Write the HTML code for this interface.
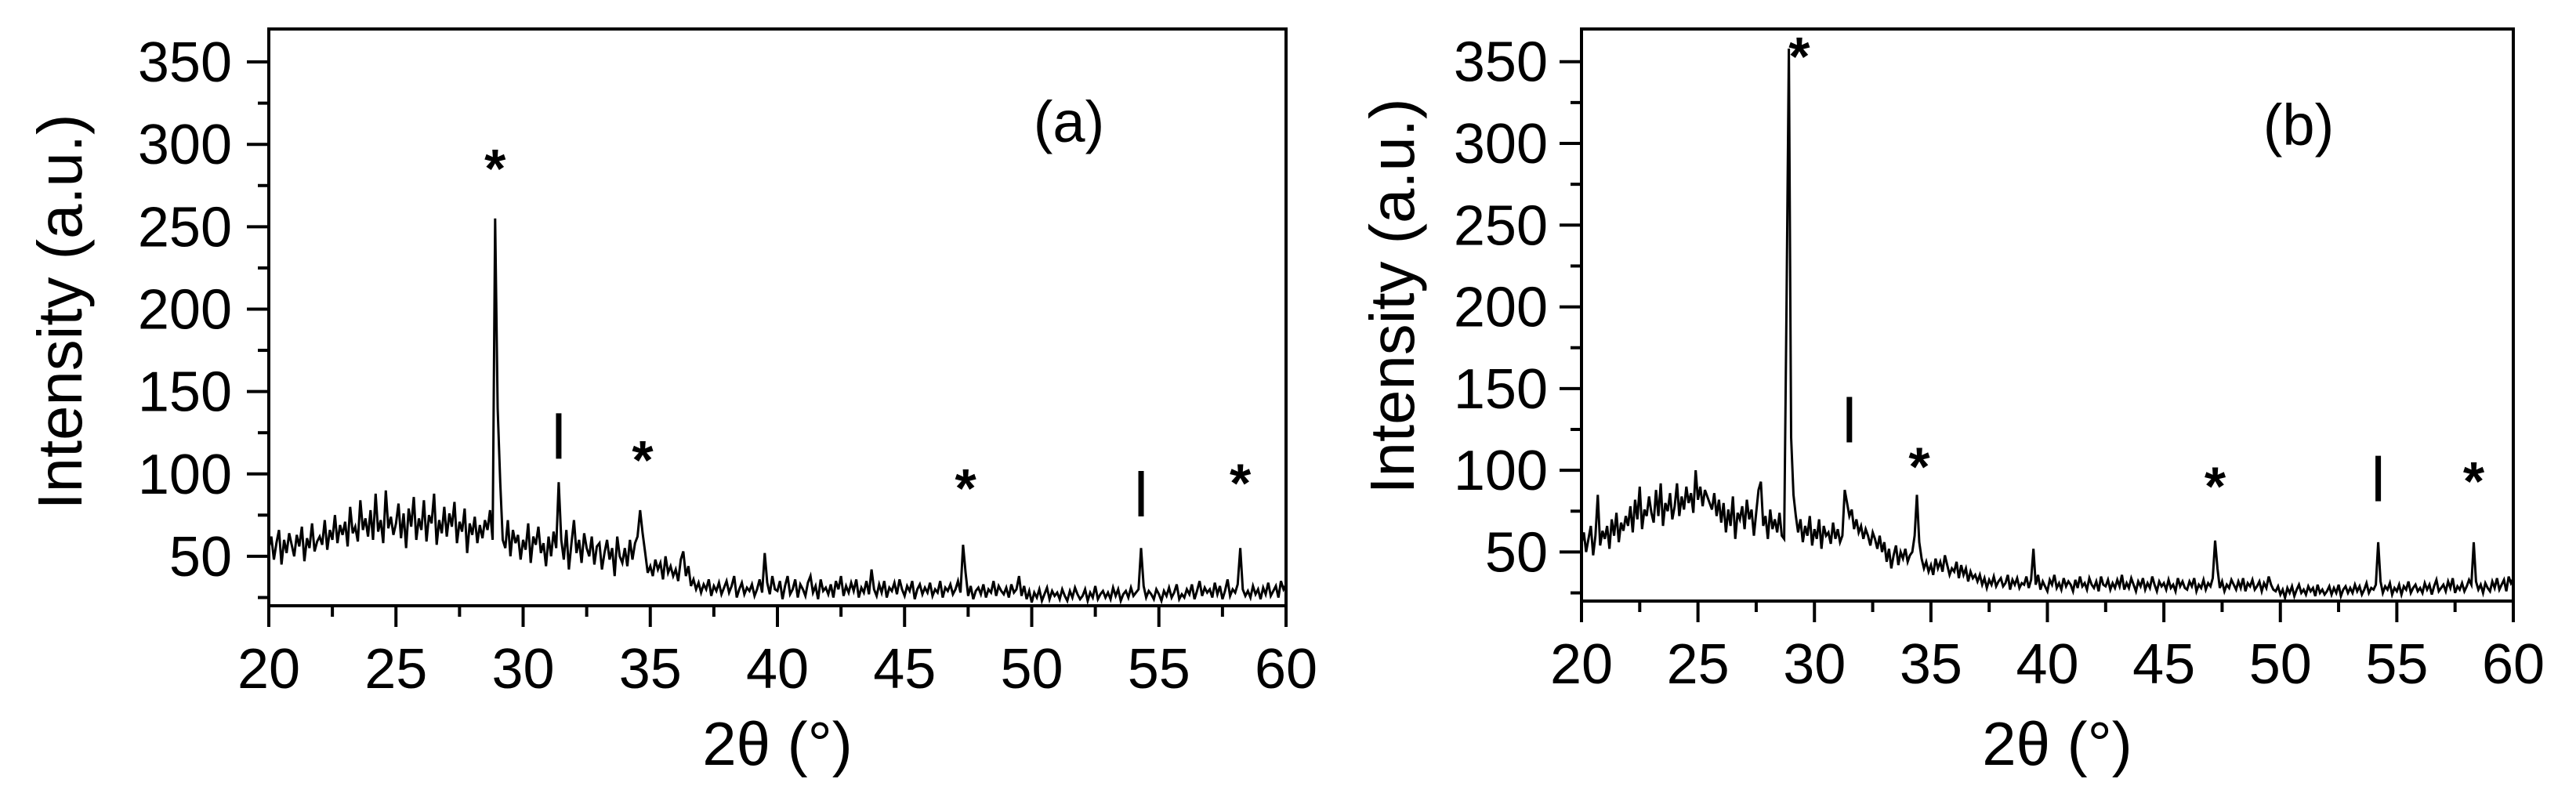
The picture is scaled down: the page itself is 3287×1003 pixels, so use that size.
<!DOCTYPE html>
<html><head><meta charset="utf-8"><style>
html,body{margin:0;padding:0;background:#fff;}
svg{display:block;font-family:"Liberation Sans",sans-serif;}
</style></head><body>
<svg id="fig" width="3287" height="1003" viewBox="0 0 3287 1003" xmlns="http://www.w3.org/2000/svg"></svg>
<script>
const xStart = 20, xStep = 0.1;
const xTicks = [20,25,30,35,40,45,50,55,60];
const yTicks = [50,100,150,200,250,300,350];
const seriesA = [
55,62,48,58,66,45,60,52,64,57,
50,63,56,68,47,61,55,70,53,59,
62,57,72,54,66,60,75,58,69,63,
71,56,80,64,68,59,84,66,73,62,
78,60,88,65,72,58,90,67,74,63,
70,82,61,76,55,79,68,86,60,73,
66,84,59,75,70,88,57,72,64,80,
62,76,68,83,58,71,65,79,52,70,
63,74,58,69,61,72,66,78,60,255,
140,95,60,55,72,50,66,58,63,48,
60,54,70,46,62,57,68,52,58,44,
62,50,65,55,95,60,48,66,42,58,
72,52,60,46,64,55,50,62,45,56,
58,42,52,60,48,55,38,62,50,46,
55,44,60,48,58,62,78,64,52,40,
44,38,48,42,46,36,50,40,44,38,
42,35,48,53,38,44,32,36,30,34,
28,33,30,36,26,32,29,34,27,31,
35,28,32,38,25,30,34,27,31,29,
33,26,30,36,28,52,34,27,38,30,
29,35,24,32,38,27,30,36,25,33,
30,26,34,38,28,32,24,36,29,31,
27,33,25,35,30,38,26,32,28,34,
29,36,25,31,28,35,27,42,30,26,
33,28,35,25,31,29,34,27,36,30,
26,32,29,35,24,30,33,27,31,28,
34,26,30,28,35,25,31,29,33,27,
30,35,28,57,40,26,32,24,29,31,
27,33,25,30,28,35,26,32,29,27,
31,25,33,28,30,38,26,32,24,29,
22,28,25,30,23,27,31,24,29,26,
28,24,30,26,23,29,25,31,27,24,
26,30,23,28,25,32,24,27,29,25,
28,24,31,26,30,23,27,29,25,31,
26,28,30,55,32,25,29,27,24,30,
27,23,29,26,31,25,28,33,24,27,
25,30,27,33,24,29,35,26,31,28,
30,25,34,27,32,24,29,36,26,30,
28,33,55,30,26,29,25,32,27,30,
24,31,27,34,26,29,32,25,35,30,
33];
const seriesB = [
55,62,50,58,66,48,60,85,54,63,
58,66,52,70,60,74,56,68,63,72,
66,78,62,82,70,90,64,76,72,84,
74,68,88,72,92,66,80,75,86,70,
78,92,72,84,76,90,80,86,74,100,
82,90,78,88,84,80,76,86,72,82,
68,80,62,76,66,84,58,74,70,78,
64,82,70,76,60,74,88,93,66,72,
58,76,64,70,62,74,60,58,200,358,
120,85,72,62,70,56,66,60,72,54,
64,58,70,52,66,60,62,55,68,58,
64,56,60,88,80,72,76,64,70,62,
66,58,64,60,54,62,58,52,60,50,
56,44,52,40,48,54,42,50,46,52,
44,48,50,60,85,56,46,40,44,38,
42,36,46,40,44,38,48,42,36,40,
38,44,34,42,36,40,32,38,34,36,
32,36,30,34,28,33,30,35,29,32,
34,29,31,36,27,33,30,34,28,31,
30,35,28,33,52,30,36,27,32,29,
26,33,30,36,28,31,27,34,29,32,
30,26,33,28,35,29,31,27,34,30,
28,32,26,35,30,29,33,27,31,28,
33,29,36,27,31,28,34,30,26,32,
29,34,27,31,28,35,30,26,32,29,
31,27,33,28,30,26,34,29,32,28,
27,32,29,34,26,30,28,33,27,31,
29,34,57,40,28,32,26,30,28,33,
30,27,32,28,34,26,31,29,33,27,
29,32,26,31,28,35,30,27,26,29,
24,27,22,28,25,29,23,27,30,25,
27,24,29,26,28,23,30,25,27,24,
26,29,24,28,25,30,23,27,29,25,
28,25,30,26,29,24,27,31,25,28,
27,30,56,32,25,29,27,31,24,28,
26,30,24,29,27,32,25,28,30,26,
28,25,31,27,30,24,29,33,26,28,
30,26,32,28,34,25,29,27,31,26,
29,33,30,56,32,27,30,25,31,28,
26,32,28,34,27,30,33,26,35,31,
34];
const markersAX = [28.9,31.4,34.7,47.4,54.3,58.2];
const markersAY = [293,123,116,99,88,102];
const markersASym = ["*","I","*","*","I","*"];
const markersBX = [29.35,31.5,34.5,47.2,54.2,58.3];
const markersBY = [361,131,110,98,95,101];
const markersBSym = ["*","I","*","*","I","*"];

const NS = "http://www.w3.org/2000/svg";
const svg = document.getElementById('fig');
function mk(tag, attrs, parent){const e=document.createElementNS(NS,tag);for(const k in attrs)e.setAttribute(k,attrs[k]);parent.appendChild(e);return e;}

function panel(cfg){
  const g = mk('g',{},svg);
  
  
  const X = v => cfg.L + (v-20)/40*(cfg.R-cfg.L);
  const Y = v => cfg.B - (v-20)/350*(cfg.B-cfg.T);
  const clipId = cfg.name+'-clip';
  const cp = mk('clipPath',{id:clipId},g);
  mk('rect',{x:cfg.L,y:cfg.T,width:cfg.R-cfg.L,height:cfg.B-cfg.T},cp);
  let d='';
  cfg.values.forEach((v,i)=>{const x=X(xStart+i*xStep);d+=(i?'L':'M')+x.toFixed(1)+' '+Y(v).toFixed(1);});
  const p = mk('path',{d:d,fill:'none',stroke:'#000','stroke-width':3,'clip-path':'url(#'+clipId+')'},g);
  
  
  const fr = mk('rect',{x:cfg.L,y:cfg.T,width:cfg.R-cfg.L,height:cfg.B-cfg.T,fill:'none',stroke:'#000','stroke-width':4},g);
  
  
  for(let v=20; v<=60; v+=2.5){
    const major = (v%5===0);
    mk('line',{x1:X(v),x2:X(v),y1:cfg.B,y2:cfg.B+(major?27:14),stroke:'#000','stroke-width':4},g);
  }
  xTicks.forEach(v=>{
    const t = mk('text',{x:X(v),y:cfg.B+105,'text-anchor':'middle','font-size':72},g);
    t.textContent = v;
    
    
  });
  for(let v=25; v<=350; v+=25){
    const major = (v%50===0);
    mk('line',{x1:cfg.L,x2:cfg.L-(major?28:14),y1:Y(v),y2:Y(v),stroke:'#000','stroke-width':4},g);
  }
  yTicks.forEach(v=>{
    const t = mk('text',{x:cfg.ylabR,y:Y(v)+25,'text-anchor':'end','font-size':72},g);
    t.textContent = v;
    
    
  });
  const yt = mk('text',{x:0,y:0,'text-anchor':'middle','font-size':80,textLength:505,lengthAdjust:'spacingAndGlyphs',transform:'translate('+(cfg.ytX+28)+','+cfg.ytY+') rotate(-90)'},g);
  yt.textContent = 'Intensity (a.u.)';
  
  
  const xt = mk('text',{x:cfg.xtX,y:976,'text-anchor':'middle','font-size':78},g);
  xt.textContent = '2θ (°)';
  
  
  const pl = mk('text',{x:cfg.plX,y:cfg.plY+27,'text-anchor':'middle','font-size':74},g);
  pl.textContent = cfg.label;
  
  
  cfg.mx.forEach((mx,i)=>{
    const cx = X(mx), cy = Y(cfg.my[i]);
    if(cfg.ms[i]==='I'){
      const l = mk('line',{x1:cx,x2:cx,y1:cy-29,y2:cy+29,stroke:'#000','stroke-width':7},g);
      
      
    } else {
      const t = mk('text',{x:cx,y:cy+40,'text-anchor':'middle','font-size':70,'font-weight':'bold'},g);
      t.textContent = '*';
      
      
    }
  });
}
panel({name:'panel-a',L:343,R:1641,T:37,B:773,ylabR:296,ytX:76,ytY:398,xtX:992,plX:1364,plY:154,label:'(a)',values:seriesA,mx:markersAX,my:markersAY,ms:markersASym});
panel({name:'panel-b',L:2018,R:3207,T:37,B:767,ylabR:1975,ytX:1776,ytY:378,xtX:2625,plX:2933,plY:158,label:'(b)',values:seriesB,mx:markersBX,my:markersBY,ms:markersBSym});
</script>
</body></html>
